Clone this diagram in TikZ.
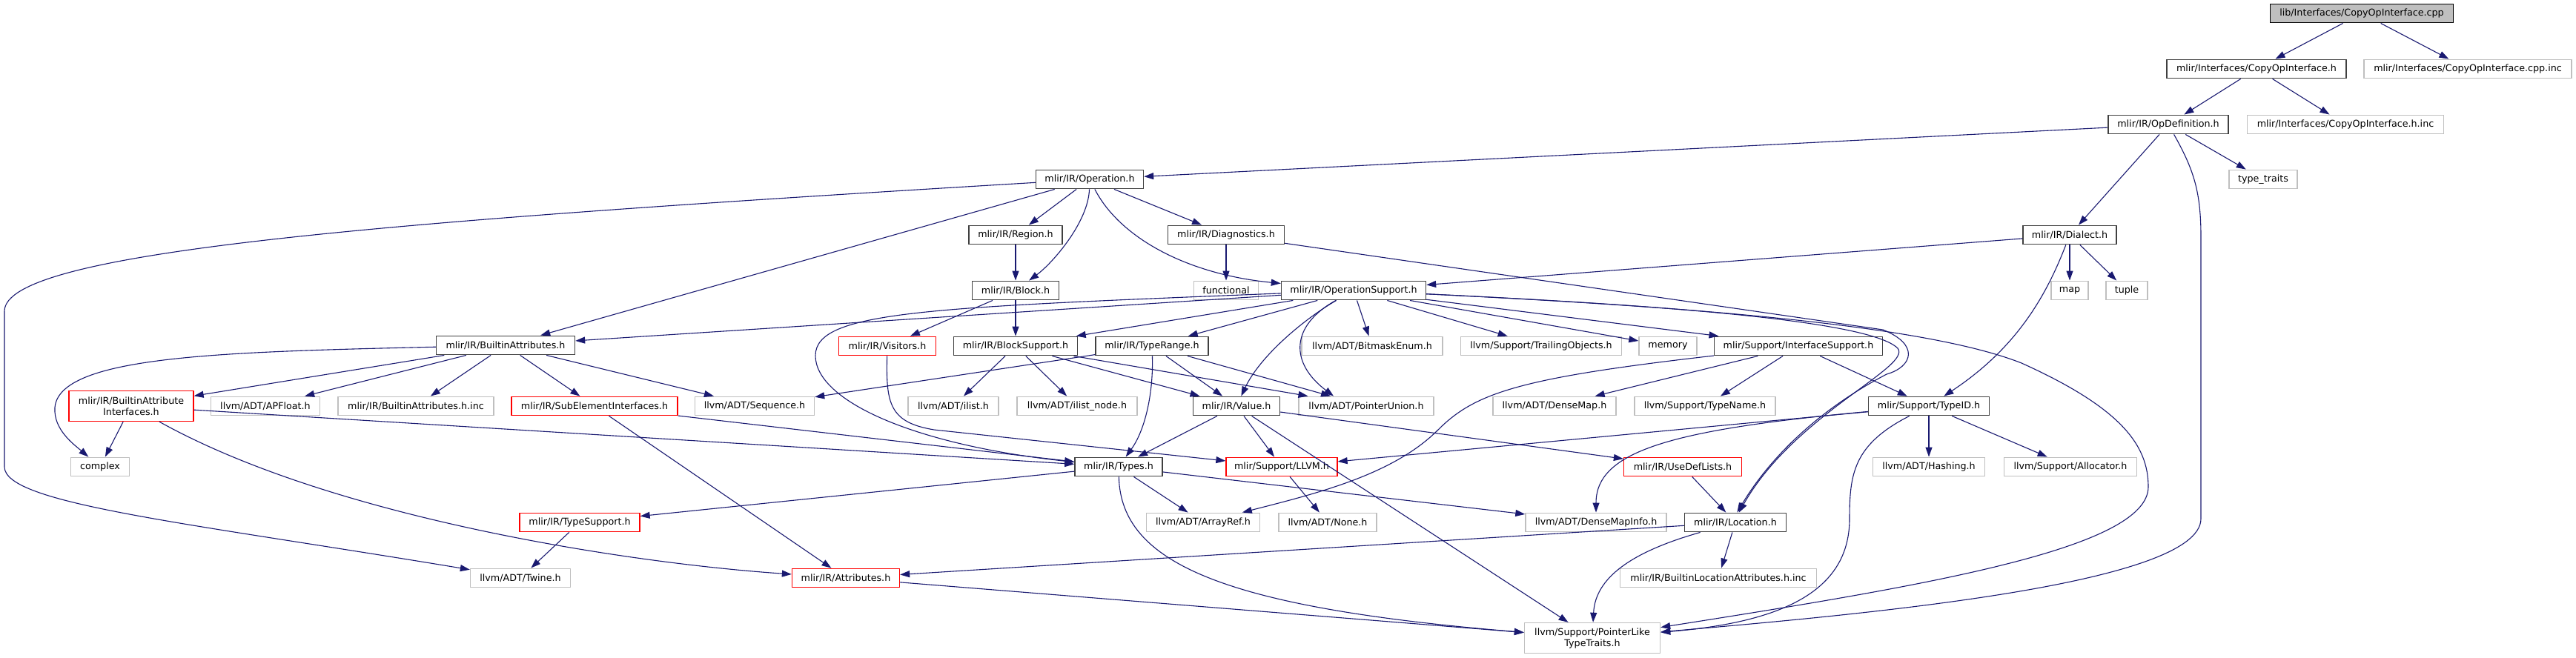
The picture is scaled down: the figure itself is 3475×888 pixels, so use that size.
\documentclass[tikz,border=0pt]{standalone}
\usepackage{fontspec}
\setmainfont{DejaVu Sans}
\usetikzlibrary{arrows.meta}
\definecolor{edgec}{HTML}{191970}
\definecolor{nodeblk}{HTML}{404040}
\definecolor{nodegry}{HTML}{BFBFBF}
\definecolor{nodered}{HTML}{FF0000}
\tikzset{
  base/.style={draw, line width=1.4pt, fill=white, inner sep=0pt, minimum height=25.5pt,
    font=\fontsize{12.7}{15}\selectfont, text=black},
  blk/.style={base, draw=nodeblk},
  redbox/.style={base, draw=nodered, line width=1.3pt},
  grey/.style={base, draw=nodegry},
  root/.style={base, draw=black, fill=nodegry},
  edge/.style={draw=edgec, line width=1.1pt, -{Triangle[length=13pt,width=9pt]}}
}
\begin{document}
\begin{tikzpicture}[x=1pt,y=-1pt]
\useasboundingbox (0,0) rectangle (3475,888);
% nodes
\node[root, minimum width=247pt] (cpp) at (3186,18) {lib/Interfaces/CopyOpInterface.cpp};
\node[blk, minimum width=242pt] (coh) at (3044,93) {mlir/Interfaces/CopyOpInterface.h};
\node[grey, minimum width=280pt] (cppinc) at (3329,93) {mlir/Interfaces/CopyOpInterface.cpp.inc};
\node[blk, minimum width=162pt] (opdef) at (2925,168) {mlir/IR/OpDefinition.h};
\node[grey, minimum width=265pt] (hinc) at (3164,168) {mlir/Interfaces/CopyOpInterface.h.inc};
\node[blk, minimum width=145pt] (op) at (1470,242) {mlir/IR/Operation.h};
\node[grey, minimum width=92pt] (tt) at (3053,242) {type\_traits};
\node[blk, minimum width=126pt] (region) at (1370,317) {mlir/IR/Region.h};
\node[blk, minimum width=157pt] (diag) at (1654,317) {mlir/IR/Diagnostics.h};
\node[blk, minimum width=126pt] (dialect) at (2792,317) {mlir/IR/Dialect.h};
\node[blk, minimum width=117pt] (block) at (1370,392) {mlir/IR/Block.h};
\node[grey, minimum width=87pt] (functional) at (1654,392) {functional};
\node[blk, minimum width=195pt] (opsup) at (1826,392) {mlir/IR/OperationSupport.h};
\node[grey, minimum width=50pt] (map) at (2792,392) {map};
\node[grey, minimum width=56pt] (tuple) at (2869,392) {tuple};
\node[blk, minimum width=187pt] (battr) at (682,466) {mlir/IR/BuiltinAttributes.h};
\node[redbox, minimum width=131pt] (visitors) at (1197,467) {mlir/IR/Visitors.h};
\node[blk, minimum width=167pt] (bsup) at (1370,467) {mlir/IR/BlockSupport.h};
\node[blk, minimum width=152pt] (trange) at (1554,467) {mlir/IR/TypeRange.h};
\node[grey, minimum width=190pt] (bitmask) at (1851,467) {llvm/ADT/BitmaskEnum.h};
\node[grey, minimum width=217pt] (trailing) at (2079,467) {llvm/Support/TrailingObjects.h};
\node[grey, minimum width=78pt] (memory) at (2250,467) {memory};
\node[blk, minimum width=227pt] (isup) at (2426,467) {mlir/Support/InterfaceSupport.h};
\node[redbox, minimum width=168pt, minimum height=41pt, align=center] (bai) at (177,548) {mlir/IR/BuiltinAttribute\\Interfaces.h};
\node[grey, minimum width=147pt] (apfloat) at (358,548) {llvm/ADT/APFloat.h};
\node[grey, minimum width=210pt] (bainc) at (561,548) {mlir/IR/BuiltinAttributes.h.inc};
\node[redbox, minimum width=224pt] (subel) at (802,548) {mlir/IR/SubElementInterfaces.h};
\node[grey, minimum width=161pt] (seq) at (1018,548) {llvm/ADT/Sequence.h};
\node[grey, minimum width=122pt] (ilist) at (1286,548) {llvm/ADT/ilist.h};
\node[grey, minimum width=162pt] (ilistnode) at (1453,548) {llvm/ADT/ilist\_node.h};
\node[blk, minimum width=117pt] (value) at (1668,548) {mlir/IR/Value.h};
\node[grey, minimum width=182pt] (punion) at (1843,548) {llvm/ADT/PointerUnion.h};
\node[grey, minimum width=166pt] (densemap) at (2097,548) {llvm/ADT/DenseMap.h};
\node[grey, minimum width=190pt] (typename) at (2300,548) {llvm/Support/TypeName.h};
\node[blk, minimum width=163pt] (typeid) at (2602,548) {mlir/Support/TypeID.h};
\node[grey, minimum width=79pt] (complex) at (135,630) {complex};
\node[blk, minimum width=118pt] (types) at (1509,630) {mlir/IR/Types.h};
\node[redbox, minimum width=150pt] (llvm) at (1729,630) {mlir/Support/LLVM.h};
\node[redbox, minimum width=159pt] (usedef) at (2270,630) {mlir/IR/UseDefLists.h};
\node[grey, minimum width=151pt] (hashing) at (2602,630) {llvm/ADT/Hashing.h};
\node[grey, minimum width=179pt] (alloc) at (2793,630) {llvm/Support/Allocator.h};
\node[redbox, minimum width=162pt] (tsup) at (782,705) {mlir/IR/TypeSupport.h};
\node[grey, minimum width=153pt] (arrayref) at (1623,705) {llvm/ADT/ArrayRef.h};
\node[grey, minimum width=132pt] (none) at (1791,705) {llvm/ADT/None.h};
\node[grey, minimum width=190pt] (dmi) at (2153,705) {llvm/ADT/DenseMapInfo.h};
\node[blk, minimum width=137pt] (loc) at (2341,705) {mlir/IR/Location.h};
\node[grey, minimum width=135pt] (twine) at (702,780) {llvm/ADT/Twine.h};
\node[redbox, minimum width=145pt] (attrs) at (1141,780) {mlir/IR/Attributes.h};
\node[grey, minimum width=265pt] (bla) at (2318,780) {mlir/IR/BuiltinLocationAttributes.h.inc};
\node[grey, minimum width=183pt, minimum height=41pt, align=center] (plt) at (2148,861) {llvm/Support/PointerLike\\TypeTraits.h};
% straight edges
\foreach \a/\b in {cpp/coh, cpp/cppinc, coh/opdef, coh/hinc, opdef/op, opdef/tt, opdef/dialect,
  op/battr, op/region, op/diag, region/block, diag/functional,
  dialect/opsup, dialect/map, dialect/tuple, block/visitors, block/bsup,
  battr/bai, battr/apfloat, battr/bainc, battr/subel, battr/seq,
  bsup/ilist, bsup/ilistnode, bsup/value, bsup/punion,
  trange/seq, trange/value, trange/punion,
  opsup/battr, opsup/bsup, opsup/trange, opsup/bitmask, opsup/trailing, opsup/memory, opsup/isup,
  isup/densemap, isup/typename, isup/typeid,
  typeid/hashing, typeid/alloc, typeid/llvm,
  bai/complex, bai/types, subel/types, subel/attrs,
  value/types, value/llvm, value/usedef, value/plt,
  types/tsup, types/arrayref, types/dmi, llvm/none, usedef/loc, tsup/twine,
  loc/attrs, loc/bla, attrs/plt}
  \draw[edge] (\a) -- (\b);
% curved edges
\draw[edge] (op) .. controls (1468,300) and (1420,355) .. (block);
\draw[edge] (op) .. controls (1510,320) and (1600,370) .. (opsup);
\draw[edge] (op) .. controls (500,300) and (6,340) .. (6,420) -- (6,630) .. controls (6,680) and (250,705) .. (twine);
\draw[edge] (battr) .. controls (300,475) and (80,480) .. (74,550) .. controls (72,580) and (100,600) .. (complex);
\draw[edge] (bai) .. controls (450,700) and (850,760) .. (attrs);
\draw[edge] (opsup) .. controls (1250,415) and (1100,420) .. (1100,480) .. controls (1100,540) and (1230,600) .. (types);
\draw[edge] (trange) .. controls (1556,530) and (1545,580) .. (types);
\draw[edge] (visitors) .. controls (1195,545) and (1200,570) .. (1260,580) -- (llvm);
\draw[edge] (opsup) .. controls (1760,430) and (1700,480) .. (value);
\draw[edge] (opsup) .. controls (1740,440) and (1740,490) .. (punion.163);
\draw[edge] (diag) -- (2540,445) .. controls (2590,465) and (2580,495) .. (2545,505) .. controls (2440,560) and (2380,630) .. (loc.80);
\draw[edge] (opsup) .. controls (2200,410) and (2520,430) .. (2560,470) .. controls (2580,495) and (2420,560) .. (loc.70);
\draw[edge] (opsup) .. controls (2300,415) and (2600,440) .. (2727,490) .. controls (2860,550) and (2898,600) .. (2898,657) .. controls (2898,740) and (2600,790) .. (plt);
\draw[edge] (opdef) .. controls (2960,230) and (2969,260) .. (2969,320) -- (2969,700) .. controls (2969,790) and (2500,830) .. (plt);
\draw[edge] (dialect) .. controls (2760,400) and (2720,470) .. (typeid);
\draw[edge] (typeid) .. controls (2250,580) and (2153,610) .. (dmi);
\draw[edge] (typeid) .. controls (2500,600) and (2495,640) .. (2495,700) .. controls (2495,800) and (2400,840) .. (plt);
\draw[edge] (isup) .. controls (2050,510) and (1990,530) .. (1940,580) .. controls (1880,640) and (1780,665) .. (arrayref);
\draw[edge] (types) .. controls (1512,760) and (1650,820) .. (plt);
\draw[edge] (loc) .. controls (2200,745) and (2152,780) .. (plt);
\end{tikzpicture}
\end{document}
